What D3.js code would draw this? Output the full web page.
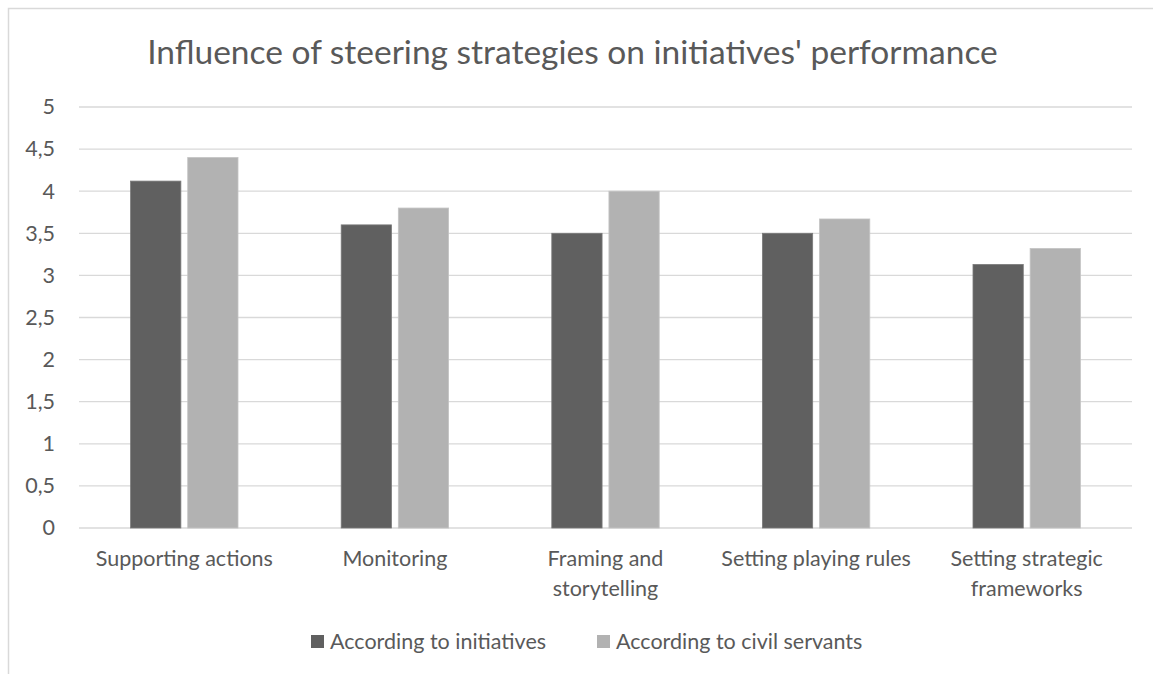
<!DOCTYPE html>
<html>
<head>
<meta charset="utf-8">
<script src="https://cdn.jsdelivr.net/npm/d3@7"></script>
<style>
  html, body { margin: 0; padding: 0; background: #fff; }
  svg { display: block; font-family: Lato, "Open Sans", sans-serif; }
</style>
</head>
<body>
<svg id="chart"></svg>
<script>
// Data
const categories = [
  "Supporting actions",
  "Monitoring",
  "Framing and storytelling",
  "Setting playing rules",
  "Setting strategic frameworks"
];
const categoryLines = [
  ["Supporting actions"],
  ["Monitoring"],
  ["Framing and", "storytelling"],
  ["Setting playing rules"],
  ["Setting strategic", "frameworks"]
];
const seriesNames = ["According to initiatives", "According to civil servants"];
const initiatives = [4.12, 3.6, 3.5, 3.5, 3.13];
const civilServants = [4.4, 3.8, 4.0, 3.67, 3.32];
const yTicks = [0, 0.5, 1, 1.5, 2, 2.5, 3, 3.5, 4, 4.5, 5];

// Chart Dimensions
const width = 1153;
const height = 674;
const margin = { top: 107, right: 21, bottom: 146, left: 79 };
const colors = ["#606060", "#b2b2b2"];
const textColor = "#595959";
const labelSize = "21.5px";

const svg = d3.select("#chart").attr("width", width).attr("height", height);

// Chart border (only top and left edges fall inside the picture)
svg.append("rect")
  .attr("x", 8.5).attr("y", 8.5)
  .attr("width", width).attr("height", height)
  .attr("fill", "#fff")
  .attr("stroke", "#d9d9d9")
  .attr("stroke-width", 1.5);

// Scales
const xScale = d3.scaleBand()
  .domain(categories)
  .range([margin.left, width - margin.right]);

const xInner = d3.scaleBand()
  .domain(seriesNames)
  .range([0, xScale.bandwidth() * 0.51])
  .paddingInner(0.12);

const yScale = d3.scaleLinear()
  .domain([0, 5])
  .range([height - margin.bottom, margin.top]);

// Gridlines
svg.append("g")
  .selectAll("line")
  .data(yTicks)
  .join("line")
  .attr("x1", margin.left)
  .attr("x2", width - margin.right)
  .attr("y1", d => yScale(d))
  .attr("y2", d => yScale(d))
  .attr("stroke", "#d9d9d9")
  .attr("stroke-width", 1.3);

// Y axis labels
const yAxis = d3.axisLeft(yScale)
  .tickValues(yTicks)
  .tickSize(0)
  .tickPadding(24)
  .tickFormat(d => String(d).replace(".", ","));

svg.append("g")
  .attr("transform", `translate(${margin.left}, 0)`)
  .call(yAxis)
  .call(g => g.select(".domain").remove())
  .call(g => g.selectAll("text")
    .attr("fill", textColor)
    .style("font-size", labelSize)
    .style("font-family", "Lato, sans-serif"));

// Bars
const rows = categories.map((c, i) => ({
  category: c,
  values: [initiatives[i], civilServants[i]]
}));

const groupOffset = (xScale.bandwidth() - xInner.range()[1]) / 2;

svg.append("g")
  .selectAll("g")
  .data(rows)
  .join("g")
  .attr("transform", d => `translate(${xScale(d.category) + groupOffset}, 0)`)
  .selectAll("rect")
  .data(d => d.values.map((v, j) => ({ series: seriesNames[j], value: v, j })))
  .join("rect")
  .attr("x", d => xInner(d.series))
  .attr("y", d => yScale(d.value))
  .attr("width", xInner.bandwidth())
  .attr("height", d => yScale(0) - yScale(d.value))
  .attr("fill", d => colors[d.j])
  .attr("stroke", d => d.j === 0 ? "#7a7a7a" : "#c4c4c4")
  .attr("stroke-width", 0.8);

// X axis labels
const xLabels = svg.append("g")
  .selectAll("text")
  .data(categories)
  .join("text")
  .attr("x", d => xScale(d) + xScale.bandwidth() / 2)
  .attr("y", 566)
  .attr("text-anchor", "middle")
  .attr("fill", textColor)
  .style("font-size", labelSize);

xLabels.selectAll("tspan")
  .data((d, i) => categoryLines[i])
  .join("tspan")
  .attr("x", function () { return d3.select(this.parentNode).attr("x"); })
  .attr("dy", (d, i) => i === 0 ? 0 : 30)
  .text(d => d);

// Title
svg.append("text")
  .attr("x", width / 2 - 4)
  .attr("y", 64)
  .attr("text-anchor", "middle")
  .attr("fill", textColor)
  .style("font-size", "33.5px")
  .text("Influence of steering strategies on initiatives' performance");

// Legend
const legendX = [311, 597];
const legend = svg.append("g")
  .selectAll("g")
  .data(seriesNames)
  .join("g")
  .attr("transform", (d, i) => `translate(${legendX[i]}, 635)`);

legend.append("rect")
  .attr("width", 13)
  .attr("height", 13)
  .attr("fill", (d, i) => colors[i]);

legend.append("text")
  .attr("x", 19)
  .attr("y", 13.5)
  .attr("fill", textColor)
  .style("font-size", labelSize)
  .text(d => d);
</script>
</body>
</html>
